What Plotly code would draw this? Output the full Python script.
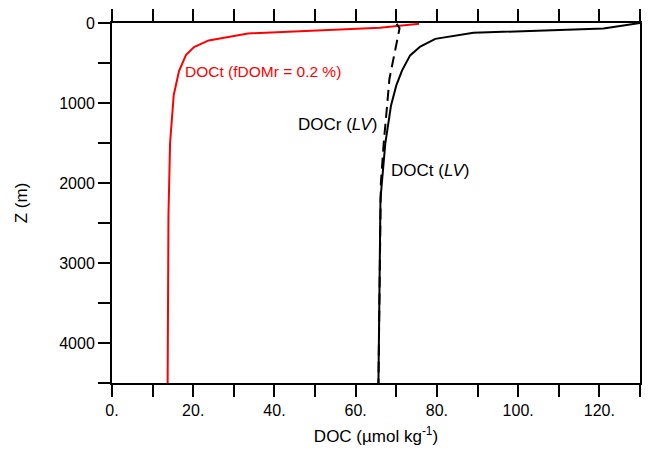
import plotly.graph_objects as go

# Depth levels (m) and DOC values (µmol kg-1)
z_red = [10, 60, 130, 218, 300, 400, 600, 900, 1500, 2400, 4500]
doct_fdomr = [75.6, 66.0, 33.5, 23.8, 20.2, 18.2, 16.5, 15.2, 14.3, 13.9, 13.7]

z_doct = [0, 70, 122, 198, 295, 405, 595, 780, 1030, 1500, 2200, 4500]
doct_lv = [130.0, 121.0, 89.0, 79.6, 75.9, 73.4, 71.4, 70.0, 68.7, 67.3, 66.1, 65.6]

z_docr = [10, 65, 218, 450, 700, 1050, 1500, 2000, 4500]
docr_lv = [70.1, 70.8, 70.2, 69.2, 68.3, 67.7, 66.9, 66.2, 65.6]

x_tickvals = list(range(0, 131, 10))
x_ticktext = ["0.", "", "20.", "", "40.", "", "60.", "", "80.", "", "100.", "", "120.", ""]
y_tickvals = list(range(0, 4501, 500))
y_ticktext = ["0", "", "1000", "", "2000", "", "3000", "", "4000", ""]

FONT = "Liberation Sans, Arial, sans-serif"

fig = go.Figure()
fig.add_trace(go.Scatter(x=doct_fdomr, y=z_red, mode="lines",
                         line=dict(color="#ff0000", width=2), showlegend=False))
fig.add_trace(go.Scatter(x=docr_lv, y=z_docr, mode="lines",
                         line=dict(color="black", width=2, dash="11px,6px"), showlegend=False))
fig.add_trace(go.Scatter(x=doct_lv, y=z_doct, mode="lines",
                         line=dict(color="black", width=2), showlegend=False))

fig.add_annotation(x=17.4, y=612, xref="x", yref="y", text="DOCt (fDOMr = 0.2 %)",
                   showarrow=False, xanchor="left", yanchor="middle",
                   font=dict(color="#ff0000", size=15.5, family=FONT))
fig.add_annotation(x=45.3, y=1267, xref="x", yref="y", text="DOCr (<i>LV</i>)",
                   showarrow=False, xanchor="left", yanchor="middle",
                   font=dict(color="black", size=17, family=FONT))
fig.add_annotation(x=68.3, y=1841, xref="x", yref="y", text="DOCt (<i>LV</i>)",
                   showarrow=False, xanchor="left", yanchor="middle",
                   font=dict(color="black", size=17, family=FONT))

axis_common = dict(showline=True, linecolor="black", linewidth=2, mirror="ticks",
                   ticks="outside", ticklen=12, tickwidth=2, tickcolor="black",
                   showgrid=False, zeroline=False,
                   tickfont=dict(size=16, family=FONT, color="black"))

fig.update_xaxes(range=[0, 130], tickmode="array", tickvals=x_tickvals, ticktext=x_ticktext,
                 title=dict(text="DOC (µmol kg<sup>-1</sup>)", font=dict(size=17, family=FONT, color="black"),
                            standoff=12),
                 **axis_common)
fig.update_yaxes(range=[4500, 0], tickmode="array", tickvals=y_tickvals, ticktext=y_ticktext,
                 title=dict(text="Z (m)", font=dict(size=17, family=FONT, color="black"),
                            standoff=27),
                 **axis_common)

fig.update_layout(width=650, height=457,
                  margin=dict(l=103.5, r=18, t=14.5, b=82, autoexpand=False),
                  plot_bgcolor="white", paper_bgcolor="white")

fig.write_html("out.html")
